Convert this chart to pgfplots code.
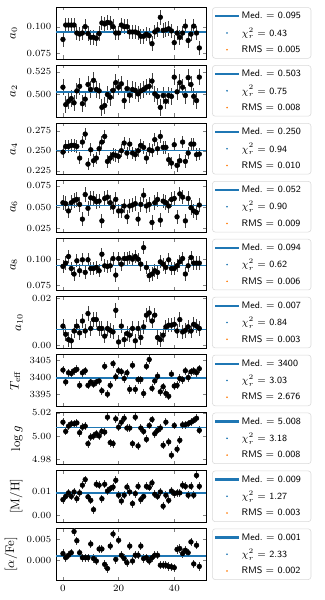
\documentclass[border=0pt]{standalone}
\usepackage{pgfplots}
\pgfplotsset{compat=1.18}
\usepackage{pgfplotstable}
\usepgfplotslibrary{groupplots}

\definecolor{mplblue}{RGB}{31,119,180}
\definecolor{mplorange}{RGB}{255,127,14}

% one column of values per panel, x is the row index
\pgfplotstableread[row sep=\\]{y\\0.088\\0.1015\\0.1015\\0.1015\\0.1015\\0.094\\0.093\\0.094\\0.100\\0.0935\\0.090\\0.090\\0.089\\0.0935\\0.1035\\0.1025\\0.104\\0.1035\\0.100\\0.094\\0.094\\0.1015\\0.100\\0.100\\0.095\\0.095\\0.095\\0.094\\0.091\\0.091\\0.093\\0.0915\\0.084\\0.095\\0.097\\0.1088\\0.0965\\0.097\\0.098\\0.096\\0.085\\0.094\\0.090\\0.094\\0.1005\\0.087\\0.093\\0.1005\\0.094\\0.080\\}\tA
\pgfplotstableread[row sep=\\]{y\\0.508\\0.489\\0.4927\\0.4956\\0.491\\0.504\\0.509\\0.490\\0.495\\0.511\\0.5055\\0.5155\\0.5055\\0.504\\0.486\\0.488\\0.500\\0.497\\0.5045\\0.513\\0.508\\0.5117\\0.4934\\0.5065\\0.4993\\0.5055\\0.5045\\0.5007\\0.504\\0.5055\\0.508\\0.509\\0.5147\\0.5007\\0.498\\0.486\\0.499\\0.4927\\0.499\\0.498\\0.519\\0.503\\0.513\\0.508\\0.499\\0.5185\\0.511\\0.498\\0.4934\\0.519\\}\tB
\pgfplotstableread[row sep=\\]{y\\0.2483\\0.2554\\0.2554\\0.2567\\0.2567\\0.2554\\0.2408\\0.2608\\0.2708\\0.2333\\0.2512\\0.2375\\0.2408\\0.2525\\0.2608\\0.2679\\0.2367\\0.2408\\0.245\\0.2442\\0.2429\\0.250\\0.2596\\0.2471\\0.2583\\0.2471\\0.245\\0.250\\0.2567\\0.2542\\0.2408\\0.2512\\0.250\\0.2638\\0.2525\\0.2679\\0.2542\\0.2542\\0.2388\\0.2346\\0.2575\\0.2317\\0.2375\\0.2608\\0.2367\\0.2471\\0.2583\\0.2583\\0.245\\0.2458\\}\tC
\pgfplotstableread[row sep=\\]{y\\0.055\\0.0539\\0.0454\\0.055\\0.0577\\0.0589\\0.0531\\0.0358\\0.0646\\0.0485\\0.0608\\0.060\\0.0562\\0.0569\\0.0338\\0.060\\0.0616\\0.055\\0.050\\0.0589\\0.0454\\0.0454\\0.0512\\0.0385\\0.0512\\0.0523\\0.0539\\0.0358\\0.0531\\0.0639\\0.0512\\0.0531\\0.0319\\0.055\\0.0589\\0.0346\\0.0569\\0.055\\0.0512\\0.0589\\0.060\\0.0385\\0.0654\\0.0616\\0.0338\\0.060\\0.0492\\0.0454\\0.0435\\0.0523\\}\tD
\pgfplotstableread[row sep=\\]{y\\0.093\\0.0962\\0.1026\\0.091\\0.0856\\0.0984\\0.0888\\0.0994\\0.0872\\0.0994\\0.091\\0.091\\0.092\\0.0888\\0.1048\\0.0936\\0.093\\0.0936\\0.1006\\0.0846\\0.1006\\0.0952\\0.1006\\0.1006\\0.1016\\0.100\\0.1026\\0.100\\0.0952\\0.1112\\0.092\\0.084\\0.0856\\0.0888\\0.0872\\0.0974\\0.0952\\0.092\\0.0994\\0.091\\0.091\\0.0936\\0.0974\\0.1006\\0.0856\\0.0936\\0.1016\\0.0962\\0.0962\\0.0962\\}\tE
\pgfplotstableread[row sep=\\]{y\\0.0082\\0.0047\\0.0024\\0.0019\\0.0061\\0.0082\\0.0053\\0.0104\\0.0061\\0.0136\\0.0072\\0.011\\0.011\\0.0072\\0.0072\\0.0039\\0.0072\\0.0064\\0.0057\\0.015\\0.0014\\0.0082\\0.0024\\0.005\\0.0043\\0.0072\\0.0019\\0.0072\\0.0033\\0.0079\\0.0129\\0.0139\\0.0104\\0.0129\\0.0033\\0.0024\\0.0043\\0.0079\\0.0086\\0.0086\\0.009\\0.0061\\0.011\\0.0057\\0.0064\\0.0079\\0.0061\\0.009\\0.0082\\0.0072\\}\tF
\pgfplotstableread[row sep=\\]{y\\3402.2\\3398.7\\3401.4\\3401.2\\3402.0\\3402.4\\3397.7\\3401.4\\3402.0\\3397.7\\3398.7\\3398.0\\3398.7\\3399.0\\3396.1\\3403.3\\3395.1\\3397.7\\3404.1\\3400.2\\3402.0\\3401.7\\3399.7\\3401.4\\3396.5\\3403.6\\3396.5\\3399.4\\3399.4\\3395.3\\3403.3\\3405.3\\3396.8\\3399.0\\3400.4\\3395.8\\3397.3\\3395.3\\3394.5\\3401.0\\3397.5\\3397.7\\3399.7\\3399.4\\3402.0\\3400.0\\3401.7\\3402.0\\3401.4\\3402.6\\}\tG
\pgfplotstableread[row sep=\\]{y\\5.012\\5.004\\5.0086\\5.0106\\5.0106\\5.0114\\5.0029\\5.0077\\5.0086\\4.9934\\4.9991\\5.000\\5.002\\5.000\\5.004\\5.0034\\5.0163\\4.9943\\4.9934\\5.0149\\5.0077\\5.012\\5.0154\\5.0069\\5.0069\\4.9934\\5.0163\\4.9914\\5.0069\\5.004\\4.9971\\5.0091\\5.0143\\5.002\\5.0049\\5.0069\\4.992\\5.012\\4.9949\\4.9834\\5.0091\\4.9886\\4.9963\\5.0097\\5.0097\\5.0106\\5.012\\5.0134\\5.0154\\5.0049\\}\tH
\pgfplotstableread[row sep=\\]{y\\0.0067\\0.0081\\0.0096\\0.0081\\0.010\\0.0071\\0.0096\\0.0129\\0.0153\\0.0079\\0.0064\\0.0024\\0.0133\\0.0129\\0.0071\\0.0133\\0.0104\\0.0114\\0.0121\\0.015\\0.0086\\0.0061\\0.0086\\0.0121\\0.010\\0.005\\0.0093\\0.0124\\0.0067\\0.0081\\0.0124\\0.0119\\0.0139\\0.009\\0.0081\\0.010\\0.0039\\0.0086\\0.0064\\0.0104\\0.0093\\0.0096\\0.0096\\0.0129\\0.0124\\0.0086\\0.0124\\0.0086\\0.0171\\0.0124\\}\tI
\pgfplotstableread[row sep=\\]{y\\0.0016\\0.0006\\0.0012\\0.0018\\0.0069\\0.0047\\0.0018\\0.0006\\0.0006\\0.0006\\0.0039\\0.0004\\-0.0002\\0.0027\\0.0027\\-0.001\\-0.002\\0.0034\\0.0063\\0.0002\\0.0048\\0.0012\\0.0004\\-0.0006\\0.0034\\-0.0002\\0.0012\\0.0012\\0.0034\\0.0004\\0.0006\\-0.0002\\0.0006\\0.0012\\0.0012\\-0.0012\\-0.0012\\-0.0012\\-0.0015\\-0.0016\\-0.0018\\0.0026\\0.0028\\0.0016\\0.0024\\0.0018\\0.0044\\-0.0009\\0.0036\\-0.0015\\}\tJ

% fixed-size legend text cells so every box has the same size
\newcommand{\lbl}[1]{\makebox[46pt][l]{\rule[-2pt]{0pt}{7.5pt}#1}}

\pgfplotsset{
  panel/.style={
    width=108pt, height=37.4pt, scale only axis,
    xmin=-2.45, xmax=51.45, xtick={0,20,40},
    scaled y ticks=false,
    tick align=inside, tick pos=both, major tick length=2.5pt,
    tick label style={font=\fontsize{6.8}{7}\selectfont},
    ylabel style={font=\fontsize{9}{10}\selectfont},
    legend style={at={(1.04,0.5)}, anchor=west, draw=black!15,
      rounded corners=2pt, font=\sffamily\fontsize{6.8}{8}\selectfont,
      row sep=2.7pt, inner xsep=2pt, inner ysep=1.7pt,
      nodes={inner ysep=1pt}},
    legend cell align=left,
  },
}

\newcommand{\body}[6]{%
  \addplot[black, only marks, mark=*, mark size=1.7pt, forget plot,
    error bars/y dir=both, error bars/y fixed=#2,
    error bars/error mark=none,
    error bars/error bar style={black!75, line width=0.6pt}]
    table[x expr=\coordindex, y=y] {#1};
  \addplot[mplblue, line width=1.1pt,
    legend image code/.code={\fill[mplblue, draw=none, line width=0pt, sharp corners] (0pt,-0.8pt) rectangle (17pt,0.8pt);}]
    coordinates {(-2.45,#3) (51.45,#3)};
  \addlegendentry{\lbl{Med.\ $=$ #4}}
  \addlegendimage{only marks, mark=*, mark size=0.35pt, mplblue}
  \addlegendentry{\lbl{$\chi^2_r$ $=$ #5}}
  \addlegendimage{only marks, mark=*, mark size=0.35pt, mplorange}
  \addlegendentry{\lbl{RMS $=$ #6}}
}

\begin{document}
\begin{tikzpicture}
\begin{groupplot}[
  group style={group size=1 by 10, vertical sep=4.3pt, xticklabels at=edge bottom},
  panel,
]
\nextgroupplot[ylabel={$a_0$}, ymin=0.0697, ymax=0.1185,
  ytick={0.075,0.100}, yticklabels={0.075,0.100}]
\body{\tA}{0.0069}{0.095}{0.095}{0.43}{0.005}

\nextgroupplot[ylabel={$a_2$}, ymin=0.4757, ymax=0.5324,
  ytick={0.475,0.500,0.525}, yticklabels={0.475,0.500,0.525}]
\body{\tB}{0.009}{0.503}{0.503}{0.75}{0.008}

\nextgroupplot[ylabel={$a_4$}, ymin=0.220, ymax=0.2849,
  ytick={0.225,0.250,0.275}, yticklabels={0.225,0.250,0.275}]
\body{\tC}{0.008}{0.250}{0.250}{0.94}{0.010}

\nextgroupplot[ylabel={$a_6$}, ymin=0.020, ymax=0.0808,
  ytick={0.025,0.050,0.075}, yticklabels={0.025,0.050,0.075}]
\body{\tD}{0.0085}{0.052}{0.052}{0.90}{0.009}

\nextgroupplot[ylabel={$a_8$}, ymin=0.0696, ymax=0.1199,
  ytick={0.075,0.100}, yticklabels={0.075,0.100}]
\body{\tE}{0.0064}{0.094}{0.094}{0.62}{0.006}

\nextgroupplot[ylabel={$a_{10}$}, ymin=-0.0014, ymax=0.0209,
  ytick={0,0.02}, yticklabels={0.00,0.02}]
\body{\tF}{0.0031}{0.0067}{0.007}{0.84}{0.003}

\nextgroupplot[ylabel={$T_{\rm eff}$}, ymin=3391.5, ymax=3406.8,
  ytick={3395,3400,3405}, yticklabels={3395,3400,3405}]
\body{\tG}{1.2}{3399.8}{3400}{3.03}{2.676}

\nextgroupplot[ylabel={$\log g$}, ymin=4.9755, ymax=5.0205,
  ytick={4.98,5.00,5.02}, yticklabels={4.98,5.00,5.02}]
\body{\tH}{0.0034}{5.0074}{5.008}{3.18}{0.008}

\nextgroupplot[ylabel={$[\mathrm{M/H}]$}, ymin=-0.003, ymax=0.0193,
  ytick={0,0.01}, yticklabels={0.00,0.01}]
\body{\tI}{0.0017}{0.0095}{0.009}{1.27}{0.003}

\nextgroupplot[ylabel={$[\alpha/\mathrm{Fe}]$}, ymin=-0.0048, ymax=0.0077,
  ytick={0,0.005}, yticklabels={0.000,0.005}]
\body{\tJ}{0.001}{0.001}{0.001}{2.33}{0.002}
\end{groupplot}
\path (group c1r1.north west) ++(-37.4pt,5pt) rectangle ++(230.4pt,-432pt);
\end{tikzpicture}
\end{document}
